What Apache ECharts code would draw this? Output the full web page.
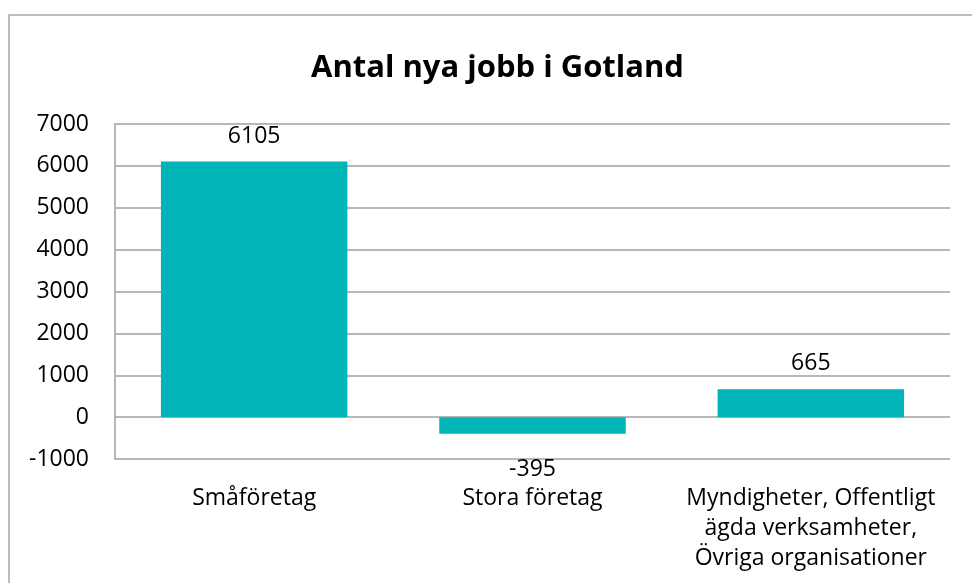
<!DOCTYPE html>
<html><head><meta charset="utf-8">
<script src="https://cdn.jsdelivr.net/npm/echarts@6/dist/echarts.min.js"></script>
<style>html,body{margin:0;padding:0;background:#fff}#c{width:972px;height:583px}</style>
</head><body><div id="c"></div>
<script>
const categories = ['Småföretag', 'Stora företag', 'Myndigheter, Offentligt\nägda verksamheter,\nÖvriga organisationer'];
const values = [6105, -395, 665];
const yTicks = { min: -1000, max: 7000, interval: 1000 };
const titleText = 'Antal nya jobb i Gotland';

const FONT = 'Open Sans';
const chart = echarts.init(document.getElementById('c'), null, { renderer: 'canvas' });
chart.setOption({
  animation: false,
  backgroundColor: '#fff',
  graphic: [{
    type: 'rect', silent: true, z: -1,
    shape: { x: 9, y: 15, width: 1100, height: 1100 },
    style: { fill: 'none', stroke: '#a6a6a6', lineWidth: 1.5 }
  }],
  title: {
    text: titleText, left: 306, top: 48,
    textStyle: { fontFamily: FONT, fontWeight: 'bold', fontSize: 31, color: '#000' }
  },
  grid: { left: 115, right: 22, top: 124, bottom: 124, containLabel: false, outerBoundsMode: 'none' },
  xAxis: {
    type: 'category', data: categories,
    axisLine: { show: false, onZero: false }, axisTick: { show: false },
    axisLabel: { fontFamily: FONT, fontSize: 23, color: '#000', lineHeight: 30, interval: 0,
      margin: 24 }
  },
  yAxis: {
    type: 'value', min: yTicks.min, max: yTicks.max, interval: yTicks.interval,
    axisLine: { show: true, lineStyle: { color: '#a0a0a0', width: 1.5 } },
    axisTick: { show: false },
    splitLine: { lineStyle: { color: '#a0a0a0', width: 1.5 } },
    axisLabel: { fontFamily: FONT, fontSize: 23, color: '#000', margin: 26, formatter: v => String(v) }
  },
  series: [{
    type: 'bar', barWidth: '67%',
    data: values.map(v => ({ value: v, label: { distance: v < 0 ? 24 : 14 } })),
    itemStyle: { color: '#00b4b8' },
    label: { show: true, position: 'outside', fontFamily: FONT, fontSize: 23, color: '#000' }
  }]
});
</script></body></html>
